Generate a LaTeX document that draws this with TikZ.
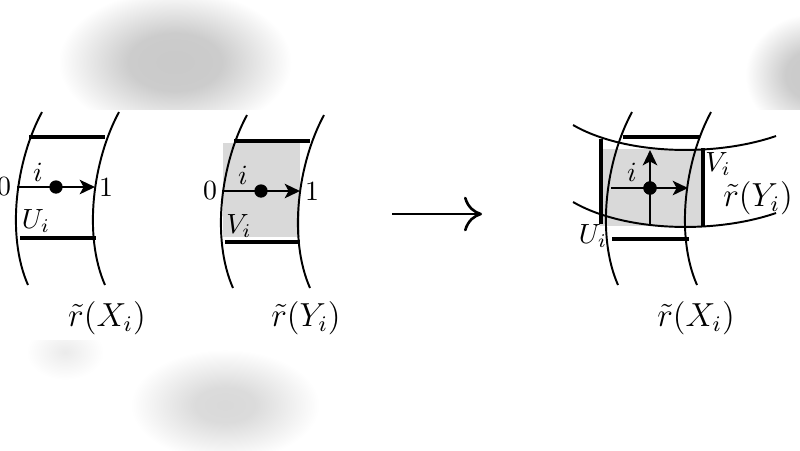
\documentclass[tikz,border=0pt]{standalone}
\usetikzlibrary{arrows.meta}
\pgfdeclareradialshading{blobdark}{\pgfpoint{0bp}{0bp}}{color(0bp)=(black!21); color(10bp)=(black!20); color(25bp)=(white); color(50bp)=(white)}
\pgfdeclareradialshading{blobmid}{\pgfpoint{0bp}{0bp}}{color(0bp)=(black!15); color(8bp)=(black!14); color(25bp)=(white); color(50bp)=(white)}
\pgfdeclareradialshading{blobpale}{\pgfpoint{0bp}{0bp}}{color(0bp)=(black!8); color(25bp)=(white); color(50bp)=(white)}
\definecolor{boxgray}{HTML}{D9D9D9}
\begin{document}
\begin{tikzpicture}[x=0.36pt,y=-0.36pt,
  band/.style={line width=0.7pt},
  edge/.style={line width=1.2pt},
  arr/.style={line width=0.85pt,-{Stealth[length=5.5pt,width=5.2pt,inset=1.4pt]}},
  dot/.style={circle,fill=black,inner sep=0pt,minimum size=4.8pt},
  lab/.style={inner sep=0pt},
  biglab/.style={inner sep=0pt,font=\fontsize{12}{14}\selectfont}]
\useasboundingbox (0,0) rectangle (800,450);
\fill[white] (0,0) rectangle (800,450);
% blurred background
\shade[shading=blobdark] (175,62) ellipse [x radius=42pt, y radius=26pt];
\shade[shading=blobdark] (812,75) ellipse [x radius=24pt, y radius=22pt];
\shade[shading=blobpale] (65,352) ellipse [x radius=14pt, y radius=10pt];
\shade[shading=blobmid] (225,405) ellipse [x radius=34pt, y radius=20pt];
\fill[white] (0,110) rectangle (800,340);

% ---------- panel 1 ----------
\draw[band] (42,112) .. controls (16,160) and (6,235) .. (28,285);
\draw[band] (119,112) .. controls (93,160) and (83,235) .. (105,285);
\draw[edge] (29,137) -- (105,137);
\draw[edge] (20,238) -- (96,238);
\coordinate (a1s) at (17,187);
\coordinate (a1e) at (95,187);
\draw[arr] (a1s) -- (a1e);
\node[dot] (d1) at (56,187) {};
\node[lab] (z1) at (4,187) {$0$};
\node[lab] (o1) at (106,188) {$1$};
\node[lab] (i1) at (38,172) {$i$};
\node[lab] (U1) at (36,221) {$U_i$};
\node[biglab] (rX1) at (107,318) {$\tilde{r}(X_i)$};

% ---------- panel 2 ----------
\fill[boxgray] (223,143) rectangle (300,237);
\draw[band] (247,115) .. controls (221,163) and (211,238) .. (233,288);
\draw[band] (324,115) .. controls (298,163) and (288,238) .. (310,288);
\draw[edge] (234,141) -- (310,141);
\draw[edge] (225,242) -- (300,242);
\coordinate (a2s) at (222,191);
\coordinate (a2e) at (300,191);
\draw[arr] (a2s) -- (a2e);
\node[dot] (d2) at (261,191) {};
\node[lab] (z2) at (210,191) {$0$};
\node[lab] (o2) at (312,192) {$1$};
\node[lab] (i2) at (243,175) {$i$};
\node[lab] (V2) at (239,226) {$V_i$};
\node[biglab] (rY2) at (306,318) {$\tilde{r}(Y_i)$};

% ---------- big arrow ----------
\coordinate (bs) at (392,214);
\coordinate (be) at (482,214);
\draw[line width=0.95pt,-{Computer Modern Rightarrow[length=6.5pt,width=12.5pt,line width=0.95pt]}] (bs) -- (be);

% ---------- panel 3 ----------
\fill[boxgray] (600,149) rectangle (703,226);
\draw[band] (573,125) .. controls (625,155) and (715,157) .. (776,136);
\draw[band] (573,202) .. controls (625,232) and (715,234) .. (776,213);
\draw[band] (632,112) .. controls (606,160) and (596,235) .. (618,285);
\draw[band] (711,112) .. controls (685,160) and (675,235) .. (697,285);
\draw[edge] (623,137) -- (700,137);
\draw[edge] (612,239) -- (689,239);
\draw[edge] (601,139) -- (601,224);
\draw[edge] (703,148) -- (703,226);
\node[dot] (d3) at (650,188) {};
\coordinate (h3s) at (611,188);
\coordinate (h3e) at (688,188);
\coordinate (v3s) at (650,226);
\coordinate (v3e) at (650,150);
\draw[arr] (h3s) -- (h3e);
\draw[arr] (v3s) -- (v3e);
\node[dot] at (d3) {};
\node[lab] (i3) at (632,172) {$i$};
\node[lab] (V3) at (718,164) {$V_i$};
\node[lab] (U3) at (593,236) {$U_i$};
\node[biglab] (rY3) at (758,198) {$\tilde{r}(Y_i)$};
\node[biglab] (rX3) at (696,318) {$\tilde{r}(X_i)$};
\end{tikzpicture}
\end{document}
